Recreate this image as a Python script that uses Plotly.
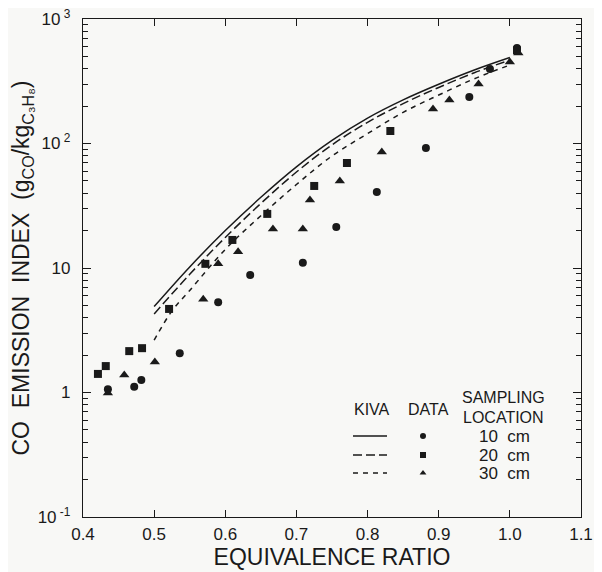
import plotly.graph_objects as go

# ---- data ----
circ_x = [0.435, 0.472, 0.482, 0.536, 0.590, 0.635, 0.709, 0.756, 0.813, 0.882, 0.943, 0.972, 1.010]
circ_y = [1.06, 1.11, 1.26, 2.07, 5.3, 8.8, 11.0, 21.3, 40.8, 92, 236, 396, 585]

sq_x = [0.421, 0.432, 0.465, 0.483, 0.521, 0.572, 0.610, 0.659, 0.725, 0.771, 0.832, 1.010]
sq_y = [1.41, 1.63, 2.15, 2.27, 4.69, 10.8, 16.8, 27.2, 45.6, 69.7, 126, 560]

tri_x = [0.435, 0.458, 0.501, 0.569, 0.590, 0.618, 0.667, 0.709, 0.719, 0.761, 0.820, 0.892, 0.915, 0.956, 1.000, 1.012]
tri_y = [0.99, 1.38, 1.76, 5.6, 10.8, 13.5, 20.6, 20.6, 35.2, 50, 85.5, 189, 224, 301, 452, 533]

kiva_x = [0.50, 0.55, 0.60, 0.65, 0.70, 0.75, 0.80, 0.85, 0.90, 0.95, 1.00]
kiva10 = [4.9, 10.2, 20, 37, 65, 106, 160, 224, 299, 389, 490]
kiva20 = [4.27, 8.9, 17.6, 33, 59, 97.5, 148, 209, 282, 370, 468]
kiva30_x = [0.50, 0.525, 0.55, 0.60, 0.65, 0.70, 0.75, 0.80, 0.85, 0.90, 0.95, 1.00]
kiva30 = [2.63, 4.52, 6.6, 14.1, 26.3, 46.8, 79.4, 120, 178, 245, 331, 427]

x_ticks = [0.4, 0.5, 0.6, 0.7, 0.8, 0.9, 1.0, 1.1]
x_ticktext = ["0.4", "0.5", "0.6", "0.7", "0.8", "0.9", "1.0", "1.1"]
y_ticks = [0.1, 1, 10, 100, 1000]
y_ticktext = ["10<sup> -1</sup>", "1", "10", "10<sup> 2</sup>", "10<sup> 3</sup>"]
y_minor = [m * d for d in (0.1, 1, 10, 100) for m in range(2, 10)]

legend_rows = ["10  cm", "20  cm", "30  cm"]
legend_dash = ["solid", "9px,4px", "5px,5px"]
legend_sym = ["circle", "square", "triangle-up"]

INK = "#1a1a1a"
BG = "#f8f8f6"
FONT = "Liberation Sans"

fig = go.Figure()

# model curves
for xs, ys, dash in [(kiva_x, kiva10, "solid"), (kiva_x, kiva20, "9px,4px"), (kiva30_x, kiva30, "5px,5px")]:
    fig.add_trace(go.Scatter(x=xs, y=ys, mode="lines",
                             line=dict(color=INK, width=1.5, dash=dash, shape="spline", smoothing=1.0),
                             showlegend=False, hoverinfo="skip"))

# data
for xs, ys, sym, sz in [(circ_x, circ_y, "circle", 8), (sq_x, sq_y, "square", 8), (tri_x, tri_y, "triangle-up", 9)]:
    fig.add_trace(go.Scatter(x=xs, y=ys, mode="markers", marker=dict(symbol=sym, size=sz, color=INK),
                             showlegend=False))

# in-plot legend, drawn on an overlay axis measured in (viewport) pixels
leg_line_x = [353, 387]
leg_mark_x = 423
leg_text_x = 504
leg_row_y = [436, 455, 473]
for i in range(3):
    fig.add_trace(go.Scatter(x=leg_line_x, y=[leg_row_y[i]] * 2, mode="lines", xaxis="x2", yaxis="y2",
                             line=dict(color=INK, width=1.3, dash=legend_dash[i]), showlegend=False, hoverinfo="skip"))
    fig.add_trace(go.Scatter(x=[leg_mark_x], y=[leg_row_y[i]], mode="markers", xaxis="x2", yaxis="y2",
                             marker=dict(symbol=legend_sym[i], size=6, color=INK), showlegend=False, hoverinfo="skip"))
    fig.add_annotation(x=leg_text_x, y=leg_row_y[i], xref="x2", yref="y2", text=legend_rows[i], showarrow=False,
                       font=dict(family=FONT, size=17, color=INK))
for txt, x, y in [("KIVA", 372, 409), ("DATA", 428, 409), ("SAMPLING", 503, 397), ("LOCATION", 503, 417)]:
    fig.add_annotation(x=x, y=y, xref="x2", yref="y2", text=txt, showarrow=False,
                       font=dict(family=FONT, size=16, color=INK))

axis_common = dict(showgrid=False, zeroline=False, showline=True, linecolor=INK, linewidth=1.3, mirror="ticks",
                   ticks="inside", tickcolor=INK, tickwidth=1.2, automargin=False, ticklabeloverflow="allow",
                   tickfont=dict(family=FONT, size=17, color=INK))

# page body has an 8px default margin, so the figure is 8px smaller and offset
fig.update_layout(
    width=594, height=564,
    margin=dict(l=75, r=21, t=11, b=55),
    paper_bgcolor=BG, plot_bgcolor=BG,
    xaxis=dict(range=[0.4, 1.1], tickvals=x_ticks, ticktext=x_ticktext, ticklen=7, ticklabelstandoff=1,
               title=dict(text="EQUIVALENCE RATIO", font=dict(family=FONT, size=23, color=INK), standoff=3),
               **axis_common),
    yaxis=dict(type="log", range=[-1, 3], tickvals=y_ticks, ticktext=y_ticktext, ticklen=8, ticklabelstandoff=8,
               minor=dict(tickvals=y_minor, ticks="inside", ticklen=5, tickcolor=INK, tickwidth=1),
               title=dict(text="CO  EMISSION  INDEX  (g<sub>CO</sub>/kg<sub>C₃H₈</sub>)",
                          font=dict(family=FONT, size=23, color=INK), standoff=6),
               **axis_common),
    yaxis3=dict(type="log", range=[-1, 3], overlaying="y", side="right", tickvals=y_ticks, ticktext=[""] * 5,
                ticks="inside", ticklen=8, tickcolor=INK, tickwidth=1.2, showgrid=False, showline=False,
                zeroline=False, automargin=False,
                minor=dict(tickvals=y_minor, ticks="inside", ticklen=5, tickcolor=INK, tickwidth=1)),
    xaxis2=dict(range=[83, 581], overlaying="x", visible=False, fixedrange=True),
    yaxis2=dict(range=[517, 19], overlaying="y", visible=False, fixedrange=True),
)
# dummy trace to activate the right-hand tick axis
fig.add_trace(go.Scatter(x=[None], y=[None], yaxis="y3", showlegend=False, hoverinfo="skip"))

fig.write_html("out.html")
